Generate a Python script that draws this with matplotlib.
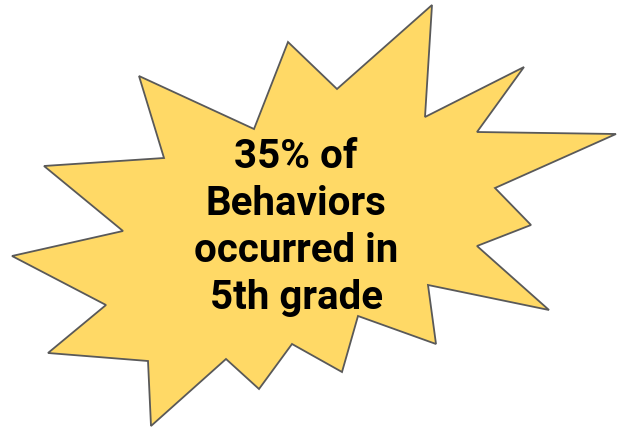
import matplotlib
matplotlib.use("Agg")
import matplotlib.pyplot as plt
from matplotlib.patches import Polygon

# starburst outline (pixel coords, y downwards)
burst_x = [44, 164, 139, 254, 288, 337, 432, 425, 524, 477, 616, 495, 531,
           477, 549, 428, 436, 358, 342, 292, 259, 226, 151, 148, 48, 106,
           12, 123]
burst_y = [166, 158, 76, 129, 42, 89, 5, 117, 67, 132, 134, 188, 225,
           246, 310, 285, 344, 316, 372, 344, 389, 359, 426, 361, 353, 305,
           256, 231]

message_lines = ["35% of", "Behaviors", "occurred in", "5th grade"]

W, H = 617, 428
fig = plt.figure(figsize=(W / 100, H / 100), dpi=100)
ax = fig.add_axes([0, 0, 1, 1])
ax.set_xlim(0, W)
ax.set_ylim(H, 0)
ax.axis("off")

star = Polygon(list(zip(burst_x, burst_y)), closed=True,
               facecolor="#ffd966", edgecolor="#595959", lw=1.3,
               joinstyle="miter")
ax.add_patch(star)

# multi-line text: va="baseline" anchors the last line's baseline
ax.text(296, 309, "\n".join(message_lines), ha="center", va="baseline",
        ma="center", family=["Roboto", "DejaVu Sans"], weight="bold",
        fontsize=29, color="black", linespacing=1.3)

fig.savefig("out.png", dpi=100)
